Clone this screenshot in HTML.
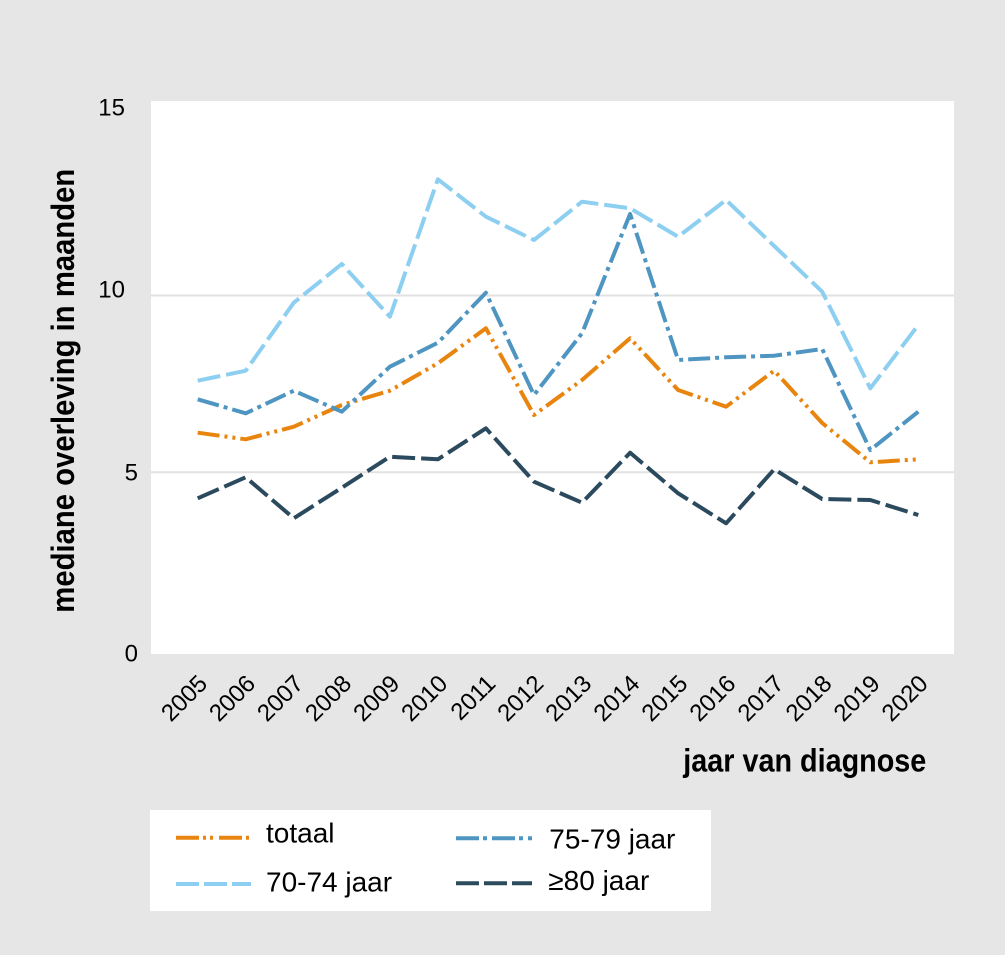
<!DOCTYPE html>
<html>
<head>
<meta charset="utf-8">
<style>
  html, body { margin: 0; padding: 0; }
  body { width: 1005px; height: 955px; background: #e6e6e6; overflow: hidden; }
  svg { display: block; }
  text { font-family: "Liberation Sans", "DejaVu Sans", sans-serif; fill: #000; }
</style>
</head>
<body>
<svg width="1005" height="955" viewBox="0 0 1005 955" xmlns="http://www.w3.org/2000/svg">
  <rect x="0" y="0" width="1005" height="955" fill="#e6e6e6"/>
  <!-- plot area -->
  <rect x="151" y="101" width="803" height="553" fill="#ffffff"/>
  <!-- gridlines -->
  <line x1="151" y1="295.5" x2="954" y2="295.5" stroke="#e2e2e2" stroke-width="2"/>
  <line x1="151" y1="472.3" x2="954" y2="472.3" stroke="#e2e2e2" stroke-width="2"/>

  <!-- y tick labels -->
  <text x="125" y="115.5" font-size="24" text-anchor="end">15</text>
  <text x="125" y="297.5" font-size="24" text-anchor="end">10</text>
  <text x="138" y="480.5" font-size="24" text-anchor="end">5</text>
  <text x="138" y="661.5" font-size="24" text-anchor="end">0</text>

  <!-- y axis title -->
  <text transform="translate(74,612.7) rotate(-90)" font-size="32" font-weight="bold" textLength="444" lengthAdjust="spacingAndGlyphs">mediane overleving in maanden</text>

  <!-- x tick labels -->
  <g font-size="24" text-anchor="end">
    <text transform="translate(208.7,685) rotate(-45)">2005</text>
    <text transform="translate(256.7,685) rotate(-45)">2006</text>
    <text transform="translate(304.8,685) rotate(-45)">2007</text>
    <text transform="translate(352.8,685) rotate(-45)">2008</text>
    <text transform="translate(400.9,685) rotate(-45)">2009</text>
    <text transform="translate(448.9,685) rotate(-45)">2010</text>
    <text transform="translate(496.9,685) rotate(-45)">2011</text>
    <text transform="translate(545.0,685) rotate(-45)">2012</text>
    <text transform="translate(593.0,685) rotate(-45)">2013</text>
    <text transform="translate(641.1,685) rotate(-45)">2014</text>
    <text transform="translate(689.1,685) rotate(-45)">2015</text>
    <text transform="translate(737.1,685) rotate(-45)">2016</text>
    <text transform="translate(785.2,685) rotate(-45)">2017</text>
    <text transform="translate(833.2,685) rotate(-45)">2018</text>
    <text transform="translate(881.3,685) rotate(-45)">2019</text>
    <text transform="translate(929.3,685) rotate(-45)">2020</text>
  </g>

  <!-- x axis title -->
  <text x="683.3" y="771.7" font-size="32" font-weight="bold" textLength="243" lengthAdjust="spacingAndGlyphs">jaar van diagnose</text>

  <!-- series -->
  <g fill="none" stroke-width="4" stroke-linejoin="round">
    <!-- totaal -->
    <polyline stroke="#e8850f" stroke-dasharray="22 5 3 5 3 5"
      points="197.7,432.7 245.7,439.3 293.8,426.7 341.8,405 389.9,390.7 437.9,363.3 485.9,328.3 534.0,415 582.0,380 630.1,338.3 678.1,390 726.1,406.7 774.2,370.7 822.2,423 870.3,462.3 918.3,459.3"/>
    <!-- 70-74 jaar -->
    <polyline stroke="#8dcff1" stroke-dasharray="23 6"
      points="197.7,380.7 245.7,370.7 293.8,302.7 341.8,264 389.9,316.7 437.9,179.3 485.9,216.7 534.0,240 582.0,201.7 630.1,208.3 678.1,236.7 726.1,200 774.2,246 822.2,291.7 870.3,388.3 918.3,325"/>
    <!-- 75-79 jaar -->
    <polyline stroke="#4f95c1" stroke-dasharray="22 5 4 5"
      points="197.7,399.3 245.7,413.3 293.8,390.7 341.8,411.7 389.9,366.7 437.9,342.7 485.9,292.7 534.0,395 582.0,333.3 630.1,214 678.1,360 726.1,357.3 774.2,355.7 822.2,349 870.3,450 918.3,411.7"/>
    <!-- >=80 jaar -->
    <polyline stroke="#2b4a5e" stroke-dasharray="23 6"
      points="197.7,498.3 245.7,477.3 293.8,518.3 341.8,487.7 389.9,456.7 437.9,459.3 485.9,428.3 534.0,481.7 582.0,502.7 630.1,452.7 678.1,493.3 726.1,523.3 774.2,469.3 822.2,499 870.3,500 918.3,515"/>
  </g>

  <!-- legend -->
  <rect x="150" y="810" width="561" height="101" fill="#ffffff"/>
  <g stroke-width="4" fill="none">
    <line x1="176" y1="837.7" x2="251" y2="837.7" stroke="#e8850f" stroke-dasharray="23 4 3 4 3 6"/>
    <line x1="176" y1="884" x2="251" y2="884" stroke="#8dcff1" stroke-dasharray="23 5"/>
    <line x1="456" y1="838.3" x2="532" y2="838.3" stroke="#4f95c1" stroke-dasharray="23 4 4 5"/>
    <line x1="456" y1="883.3" x2="532" y2="883.3" stroke="#2b4a5e" stroke-dasharray="23 5"/>
  </g>
  <g font-size="28">
    <text x="266" y="842.3">totaal</text>
    <text x="266" y="891.7">70-74 jaar</text>
    <text x="549.3" y="848.3">75-79 jaar</text>
    <text x="548.3" y="890">≥80 jaar</text>
  </g>
</svg>
</body>
</html>
